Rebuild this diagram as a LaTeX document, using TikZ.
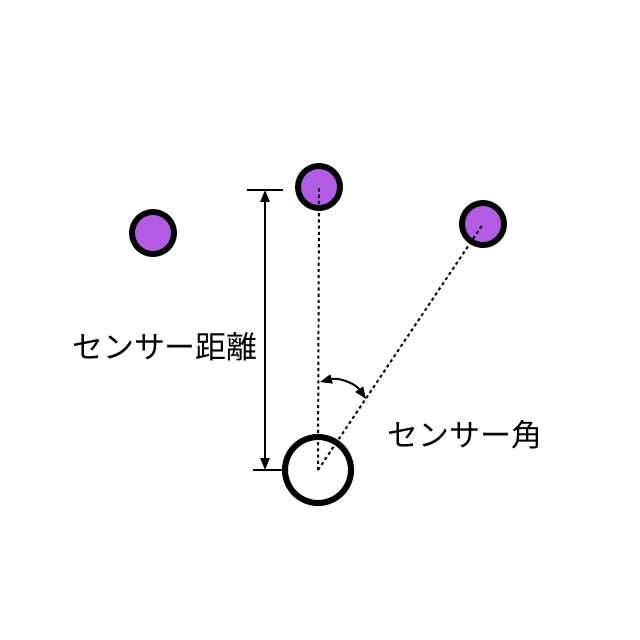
\documentclass[tikz,border=0pt]{standalone}
\usepackage{fontspec}
\newfontfamily\jpfont{Noto Sans CJK JP}
\usetikzlibrary{arrows.meta}
\definecolor{dotpurple}{RGB}{178,92,228}

\begin{document}
\begin{tikzpicture}[
  x=0.025cm, y=-0.025cm,
  tip/.style = {>={Triangle[length=8.5pt,width=6.5pt]}},
  target/.style = {circle, draw=black, line width=4.2pt, fill=dotpurple,
                   minimum size=1.05cm, inner sep=0pt},
  sensorbox/.style = {circle, draw=black, line width=4.3pt, fill=white,
                      minimum size=1.65cm, inner sep=0pt},
  sight/.style = {line width=1.4pt, dash pattern=on 2.2pt off 2.2pt},
  label/.style = {font=\jpfont\fontsize{22}{26}\selectfont}]
  \useasboundingbox (0,0) rectangle (640,640);

  % ziele
  \node[target] (dotL) at (153,233) {};
  \node[target] (dotM) at (319,187) {};
  \node[target] (dotR) at (483,224) {};

  % sensor
  \node[sensorbox] (sensor) at (318,470) {};

  % sichtlinien
  \draw[sight] (sensor.center) -- (dotM.center);
  \draw[sight] (sensor.center) -- (dotR.center);

  % abstand
  \coordinate (dtop) at (265,190);
  \coordinate (dbot) at (265,470);
  \coordinate (tickTL) at (247,190);
  \coordinate (tickTR) at (283,190);
  \coordinate (tickBL) at (253,470);
  \coordinate (tickBR) at (283,470);
  \draw[line width=1.4pt] (tickTL) -- (tickTR);
  \draw[line width=1.4pt] (tickBL) -- (tickBR);
  \draw[tip, <->, line width=1.4pt] (dtop) -- (dbot);
  \node[label] (distlabel) at (165,347) {センサー距離};

  % winkel
  \coordinate (angA) at (320,382);
  \coordinate (angB) at (366,399);
  \draw[tip, <->, line width=1.4pt] (angA) to[bend left=35] (angB);
  \node[label] (anglelabel) at (465,435) {センサー角};

\end{tikzpicture}
\end{document}
